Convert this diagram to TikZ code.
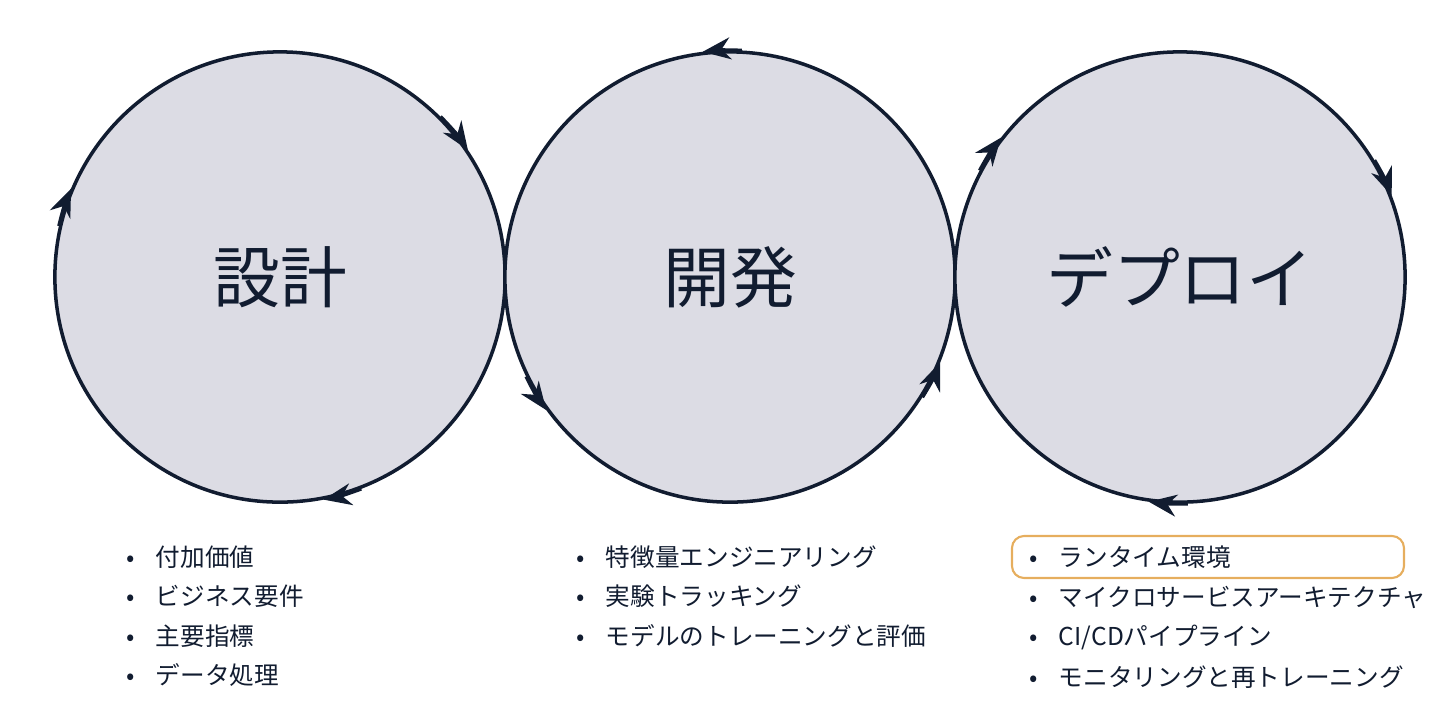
\documentclass[tikz,border=0pt]{standalone}
\usepackage{fontspec}
\setmainfont{Noto Sans CJK JP}
\usetikzlibrary{arrows.meta}
\definecolor{ink}{HTML}{111C30}
\definecolor{disk}{HTML}{DCDCE4}
\definecolor{hl}{HTML}{E6AE5E}
\begin{document}
\begin{tikzpicture}[x=0.01cm, y=-0.01cm,
    stage/.style={circle, draw=ink, fill=disk, line width=1pt, minimum size=4.5cm, inner sep=0pt,
        font=\fontsize{19}{22}\selectfont, text=ink},
    flow/.style={draw=ink, line width=1pt, -{Stealth[length=2.8mm, width=2.2mm]}},
    item/.style={anchor=west, inner sep=0pt, font=\fontsize{7}{8}\selectfont, text=ink}]
    \useasboundingbox (0,0) rectangle (1456,720);
    \node[stage] (design) at (280,277) {設計};
    \node[stage] (dev) at (730,277) {開発};
    \node[stage] (deploy) at (1180,277) {デプロイ};
    % arrows on the rims
    \draw[flow] (design.45) arc[start angle=45, end angle=34, radius=2.25cm];
    \draw[flow] (design.167) arc[start angle=167, end angle=157, radius=2.25cm];
    \draw[flow] (design.291) arc[start angle=291, end angle=281, radius=2.25cm];
    \draw[flow] (dev.87) arc[start angle=87, end angle=97, radius=2.25cm];
    \draw[flow] (dev.206) arc[start angle=206, end angle=216, radius=2.25cm];
    \draw[flow] (dev.328) arc[start angle=328, end angle=338, radius=2.25cm];
    \draw[flow] (deploy.152) arc[start angle=152, end angle=142, radius=2.25cm];
    \draw[flow] (deploy.31) arc[start angle=31, end angle=21, radius=2.25cm];
    \draw[flow] (deploy.272) arc[start angle=272, end angle=262, radius=2.25cm];
    % lists
    \draw[hl, line width=0.6pt, rounded corners=0.12cm] (1012,536) rectangle (1404,578);
    \foreach \t [count=\i] in {付加価値, ビジネス要件, 主要指標, データ処理}
        \node[item] (d\i) at (126,{557+39.5*(\i-1)}) {•\hspace{0.85em}\t};
    \foreach \t [count=\i] in {特徴量エンジニアリング, 実験トラッキング, モデルのトレーニングと評価}
        \node[item] (v\i) at (576,{557+39.5*(\i-1)}) {•\hspace{0.85em}\t};
    \foreach \t [count=\i] in {ランタイム環境, マイクロサービスアーキテクチャ, CI/CDパイプライン, モニタリングと再トレーニング}
        \node[item] (p\i) at (1029,{557+40*(\i-1)}) {•\hspace{0.85em}\t};
\end{tikzpicture}
\end{document}
